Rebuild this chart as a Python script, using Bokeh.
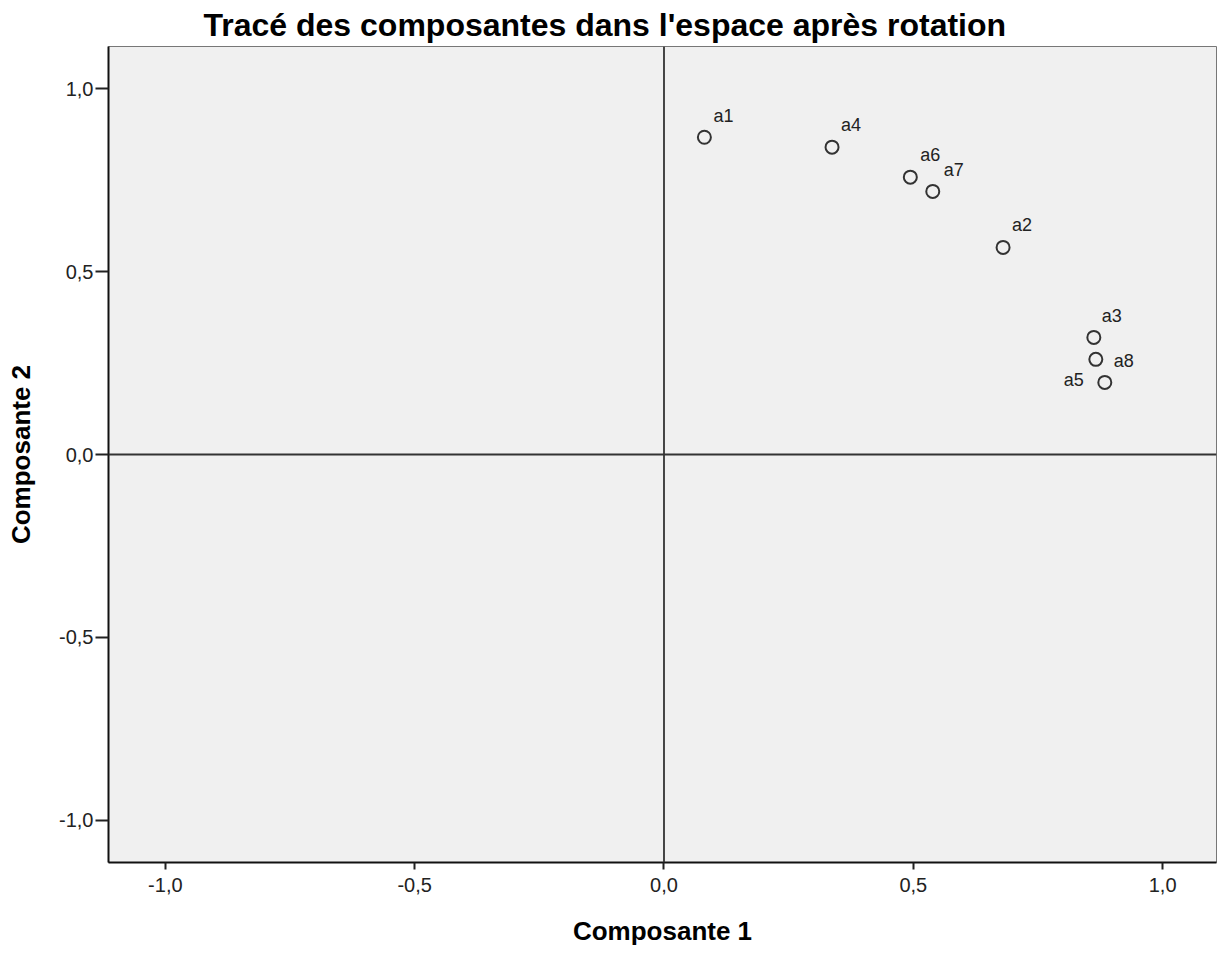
from bokeh.plotting import figure
from bokeh.models import ColumnDataSource, Span, Range1d, FixedTicker, LabelSet, CustomJSTickFormatter
from bokeh.core.properties import value
from bokeh.embed import file_html
from bokeh.resources import INLINE

# Data
names = ["a1", "a4", "a6", "a7", "a2", "a3", "a8", "a5"]
comp1 = [0.081, 0.337, 0.494, 0.539, 0.680, 0.862, 0.866, 0.884]
comp2 = [0.867, 0.840, 0.758, 0.719, 0.566, 0.320, 0.260, 0.197]
ticks = [-1.0, -0.5, 0.0, 0.5, 1.0]

# label placement (style only)
lx = [9, 9, 10, 11, 9, 8, 18, -41]
ly = [11, 12, 12, 11, 12, 11, -12, -8]

src = ColumnDataSource(dict(x=comp1, y=comp2, name=names, lx=lx, ly=ly))

FONT = "Liberation Sans"

p = figure(width=1217, height=950, frame_width=1108, frame_height=816,
           output_backend="svg", toolbar_location=None,
           x_range=Range1d(-1.114, 1.108), y_range=Range1d(-1.115, 1.115),
           min_border_left=108, min_border_right=1, min_border_top=46, min_border_bottom=88)

p.title.text = "Tracé des composantes dans l'espace après rotation"
p.title.text_font = FONT
p.title.text_font_size = "32px"
p.title.text_font_style = "bold"
p.title.text_color = "#000000"
p.title.align = "left"
p.title.offset = 95
p.title.standoff = 8

p.background_fill_color = "#f0f0f0"
p.border_fill_color = "white"
p.outline_line_color = "#777777"
p.outline_line_width = 1
p.grid.visible = False

fmt = CustomJSTickFormatter(code="return tick.toFixed(1).replace('.', ',');")
for ax in (p.xaxis[0], p.yaxis[0]):
    ax.ticker = FixedTicker(ticks=ticks)
    ax.formatter = fmt
    ax.major_label_text_font = FONT
    ax.major_label_text_font_size = "20px"
    ax.major_label_text_color = "#222222"
    ax.minor_tick_line_color = None
    ax.major_tick_in = 0
    ax.major_tick_line_color = "#222222"
    ax.major_tick_line_width = 2
    ax.axis_line_color = "#111111"
    ax.axis_line_width = 2
    ax.axis_label_text_font = FONT
    ax.axis_label_text_font_size = "26px"
    ax.axis_label_text_font_style = "bold"
    ax.axis_label_text_color = "#000000"

p.xaxis.axis_label = "Composante 1"
p.yaxis.axis_label = "Composante 2"
p.xaxis.major_tick_out = 7
p.yaxis.major_tick_out = 13
p.xaxis.major_label_standoff = 8
p.xaxis.axis_label_standoff = 21
p.yaxis.major_label_standoff = 2
p.yaxis.axis_label_standoff = 20

p.add_layout(Span(location=0, dimension="height", line_color="#333333", line_width=1.8))
p.add_layout(Span(location=0, dimension="width", line_color="#333333", line_width=1.8))

p.scatter("x", "y", source=src, size=13, marker="circle", fill_color=None,
          line_color="#333333", line_width=2)

labels = LabelSet(x="x", y="y", text="name", x_offset="lx", y_offset="ly", source=src,
                  text_font=value(FONT), text_font_size=value("18px"), text_color="#222222",
                  text_baseline="bottom")
p.add_layout(labels)

open("out.html", "w").write(file_html(p, INLINE))
